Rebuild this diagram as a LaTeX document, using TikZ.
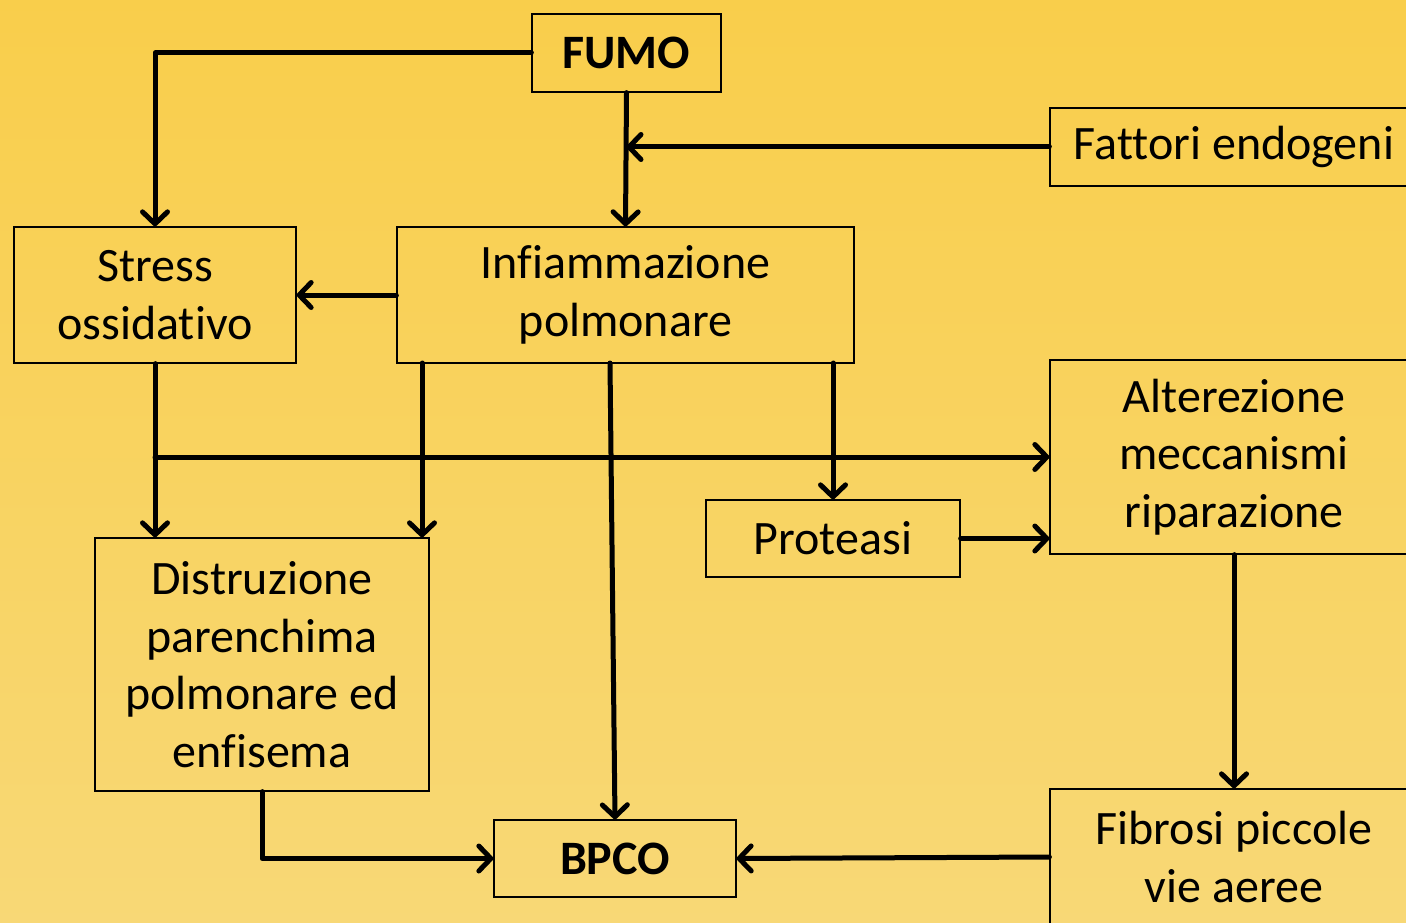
\documentclass[tikz,border=0pt]{standalone}
\usepackage{fontspec}
\setmainfont{Carlito}[Ligatures=NoCommon]
\usetikzlibrary{arrows.meta}
\tikzset{
  box/.style={draw=black, line width=1.3pt, align=center, inner sep=0pt,
    font=\fontsize{48}{57.5}\selectfont},
  conn/.style={line width=5pt, line cap=round, line join=round,
    -{Straight Barb[length=12pt,width=25pt,line width=5pt,round]}}
}
\begin{document}
\begin{tikzpicture}[x=1pt,y=-1pt]
\useasboundingbox (0,0) rectangle (1406,923);
\clip (0,0) rectangle (1406,923);
\shade[top color={rgb,255:red,249;green,206;blue,75}, bottom color={rgb,255:red,248;green,216;blue,118}] (0,0) rectangle (1406,923);

\node[box, minimum width=189pt, minimum height=78pt, font=\fontsize{48}{57.5}\selectfont\bfseries] (fumo) at (626.5,53) {FUMO};
\node[box, minimum width=368pt, minimum height=78pt] (fattori) at (1234,147) {Fattori endogeni};
\node[box, minimum width=282pt, minimum height=136pt] (stress) at (155,295) {Stress\\ossidativo};
\node[box, minimum width=457pt, minimum height=136pt] (infiam) at (625.5,295) {Infiammazione\\polmonare};
\node[box, minimum width=368pt, minimum height=194pt] (alter) at (1234,457) {Alterezione\\meccanismi\\riparazione};
\node[box, minimum width=254pt, minimum height=77pt] (prot) at (833,538.5) {Proteasi};
\node[box, minimum width=334pt, minimum height=253pt] (distr) at (262,664.5) {Distruzione\\parenchima\\polmonare ed\\enfisema};
\node[box, minimum width=242pt, minimum height=77pt, font=\fontsize{48}{57.5}\selectfont\bfseries] (bpco) at (615,858.5) {BPCO};
\node[box, minimum width=368pt, minimum height=136pt] (fibrosi) at (1234,857) {Fibrosi piccole\\vie aeree};

\coordinate (i1) at (422,363);
\coordinate (i2) at (610,363);
\coordinate (i3) at (833,363);

\draw[conn] (fumo.west) -| (stress.north);
\draw[conn] (fumo.south) -- (infiam.north);
\draw[conn] (fattori.west) -- (fattori.west -| fumo.south);
\draw[conn] (infiam.west) -- (stress.east);
\draw[conn] (stress.south) -- (stress.south |- distr.north);
\draw[conn] (stress.south |- alter.west) -- (alter.west);
\draw[conn] (i1) -- (i1 |- distr.north);
\draw[conn] (i2) -- (bpco.north);
\draw[conn] (i3) -- (prot.north);
\draw[conn] (prot.east) -- (prot.east -| alter.west);
\draw[conn] (alter.south) -- (fibrosi.north);
\draw[conn] (fibrosi.west) -- (bpco.east);
\draw[conn] (distr.south) |- (bpco.west);
\end{tikzpicture}
\end{document}
